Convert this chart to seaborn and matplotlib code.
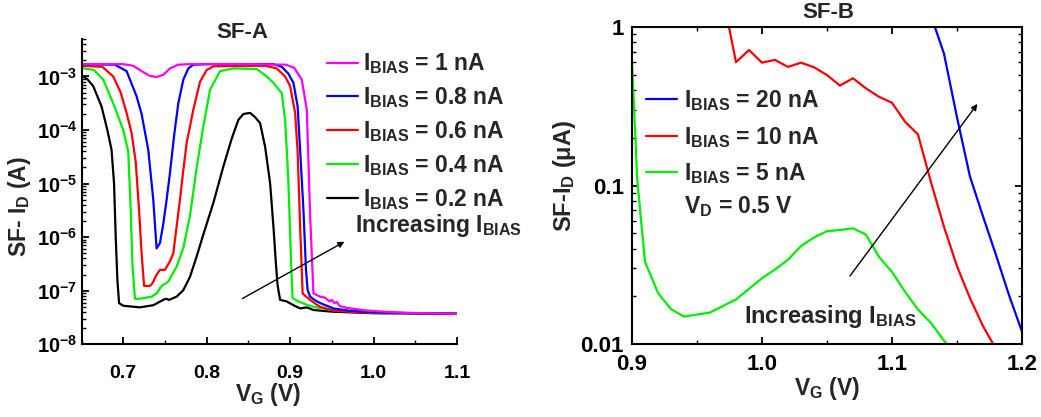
import numpy as np
import pandas as pd
import matplotlib
matplotlib.use("Agg")
import matplotlib.pyplot as plt
import seaborn as sns
from matplotlib.ticker import FixedLocator, FixedFormatter, MultipleLocator, LogLocator, NullFormatter
from matplotlib.lines import Line2D

# ---------------- SF-A: drain current vs gate voltage (log10 of current in A) ----------------
va_1n = [0.65, 0.70, 0.712, 0.722, 0.732, 0.740, 0.748, 0.756, 0.766, 0.78, 0.85, 0.895, 0.905,
         0.914, 0.920, 0.924, 0.928, 0.936, 0.942, 0.947, 0.950, 0.953, 0.956, 0.959, 0.968,
         0.992, 1.032, 1.1]
la_1n = [-2.77, -2.77, -2.80, -2.90, -2.99, -3.01, -2.97, -2.85, -2.78, -2.77, -2.77, -2.78, -2.84,
         -3.06, -3.62, -5.60, -7.05, -7.11, -7.13, -7.20, -7.17, -7.23, -7.21, -7.28, -7.32,
         -7.37, -7.41, -7.43]

va_08n = [0.65, 0.69, 0.704, 0.716, 0.722, 0.730, 0.736, 0.740, 0.744, 0.748, 0.752, 0.756, 0.761,
          0.766, 0.772, 0.778, 0.784, 0.80, 0.88, 0.89, 0.898, 0.904, 0.909, 0.912, 0.916, 0.919,
          0.921, 0.924, 0.930, 0.936, 0.944, 0.952, 0.97, 1.0, 1.05, 1.1]
la_08n = [-2.77, -2.78, -2.90, -3.37, -3.70, -4.37, -5.30, -6.21, -6.11, -5.75, -5.30, -4.80, -4.10,
          -3.50, -3.06, -2.85, -2.78, -2.77, -2.77, -2.82, -2.95, -3.12, -3.56, -4.37, -5.50, -6.60,
          -6.99, -7.11, -7.18, -7.23, -7.28, -7.33, -7.37, -7.40, -7.42, -7.43]

va_06n = [0.65, 0.675, 0.688, 0.697, 0.704, 0.710, 0.715, 0.719, 0.722, 0.725, 0.732, 0.735, 0.740,
          0.744, 0.750, 0.756, 0.760, 0.764, 0.768, 0.772, 0.776, 0.784, 0.792, 0.800, 0.808, 0.87,
          0.884, 0.894, 0.900, 0.906, 0.909, 0.912, 0.915, 0.920, 0.924, 0.930, 0.936, 0.952, 0.98,
          1.05, 1.1]
la_06n = [-2.80, -2.82, -3.00, -3.30, -3.68, -4.05, -4.60, -5.50, -6.30, -6.91, -6.91, -6.86, -6.70,
          -6.61, -6.61, -6.45, -6.30, -5.80, -5.30, -4.75, -4.24, -3.62, -3.10, -2.88, -2.81, -2.80,
          -2.85, -3.00, -3.18, -3.68, -4.40, -5.80, -7.05, -7.12, -7.17, -7.24, -7.30, -7.37, -7.40,
          -7.42, -7.43]

va_04n = [0.65, 0.665, 0.676, 0.688, 0.700, 0.706, 0.709, 0.711, 0.714, 0.720, 0.734, 0.740, 0.746,
          0.754, 0.764, 0.772, 0.780, 0.788, 0.796, 0.804, 0.816, 0.832, 0.86, 0.872, 0.880, 0.890,
          0.894, 0.896, 0.898, 0.901, 0.903, 0.910, 0.920, 0.928, 0.95, 1.0, 1.1]
la_04n = [-2.84, -2.88, -3.06, -3.50, -4.00, -4.40, -5.50, -6.50, -7.15, -7.15, -7.11, -7.05, -6.91,
          -6.83, -6.55, -6.20, -5.60, -4.70, -3.93, -3.25, -2.90, -2.85, -2.86, -3.00, -3.12, -3.31,
          -3.81, -4.37, -5.00, -6.40, -7.14, -7.20, -7.26, -7.30, -7.36, -7.41, -7.43]

va_02n = [0.65, 0.657, 0.664, 0.674, 0.681, 0.686, 0.689, 0.691, 0.693, 0.695, 0.70, 0.72, 0.736,
          0.748, 0.751, 0.755, 0.764, 0.772, 0.780, 0.788, 0.796, 0.808, 0.820, 0.830, 0.838, 0.844,
          0.852, 0.858, 0.864, 0.870, 0.876, 0.880, 0.883, 0.885, 0.888, 0.896, 0.904, 0.912, 0.920,
          0.928, 0.95, 1.0, 1.1]
la_02n = [-2.98, -3.05, -3.18, -3.56, -4.00, -4.37, -5.00, -6.00, -6.80, -7.23, -7.28, -7.31, -7.27,
          -7.17, -7.15, -7.17, -7.11, -6.99, -6.74, -6.36, -5.95, -5.36, -4.68, -4.16, -3.81, -3.70,
          -3.68, -3.76, -3.87, -4.31, -4.99, -5.80, -6.50, -6.90, -7.17, -7.20, -7.27, -7.33, -7.31,
          -7.36, -7.39, -7.42, -7.43]

a_labels = ["1 nA", "0.8 nA", "0.6 nA", "0.4 nA", "0.2 nA"]
a_colors = ["#ff00ff", "#0000ff", "#ff0000", "#00ee00", "#000000"]

# ---------------- SF-B: drain current vs gate voltage (µA) ----------------
vb_20n = [1.13, 1.14, 1.15, 1.16, 1.17, 1.18, 1.19, 1.20]
ib_20n = [1.18, 0.68, 0.27, 0.114, 0.064, 0.0365, 0.0204, 0.012]

vb_10n = [0.97, 0.98, 0.99, 1.00, 1.01, 1.02, 1.03, 1.04, 1.05, 1.06, 1.07, 1.08, 1.09, 1.10,
          1.11, 1.12, 1.13, 1.14, 1.15, 1.16, 1.17, 1.18]
ib_10n = [1.55, 0.60, 0.716, 0.596, 0.62, 0.56, 0.596, 0.557, 0.498, 0.427, 0.475, 0.41, 0.363,
          0.333, 0.253, 0.21, 0.105, 0.055, 0.031, 0.0195, 0.013, 0.0093]

vb_5n = [0.90, 0.904, 0.91, 0.92, 0.93, 0.94, 0.96, 0.98, 1.00, 1.01, 1.02, 1.03, 1.04, 1.05,
         1.06, 1.07, 1.08, 1.09, 1.10, 1.11, 1.12, 1.13, 1.14, 1.15]
ib_5n = [0.60, 0.11, 0.033, 0.021, 0.0166, 0.0149, 0.0158, 0.0191, 0.026, 0.0295, 0.034, 0.0415,
         0.047, 0.0515, 0.0524, 0.0537, 0.049, 0.0355, 0.0285, 0.0214, 0.0165, 0.0136, 0.0105, 0.0085]

b_labels = ["20 nA", "10 nA", "5 nA"]
b_colors = ["#0000ff", "#ff0000", "#00ee00"]

a_xticks = [0.7, 0.8, 0.9, 1.0, 1.1]
a_yticks = [1e-8, 1e-7, 1e-6, 1e-5, 1e-4, 1e-3]
a_yticklabels = [r"$10^{-8}$", r"$10^{-7}$", r"$10^{-6}$", r"$10^{-5}$", r"$10^{-4}$", r"$10^{-3}$"]
b_xticks = [0.9, 1.0, 1.1, 1.2]
b_yticks = [0.01, 0.1, 1]
b_yticklabels = ["0.01", "0.1", "1"]

# ---------------- style ----------------
sns.set_style("ticks")
plt.rcParams["font.family"] = ["Liberation Sans", "DejaVu Sans"]
plt.rcParams["font.weight"] = "bold"
plt.rcParams["axes.labelweight"] = "bold"
plt.rcParams["mathtext.fontset"] = "custom"
plt.rcParams["mathtext.rm"] = "Liberation Sans:bold"
plt.rcParams["mathtext.it"] = "Liberation Sans:bold"
plt.rcParams["mathtext.bf"] = "Liberation Sans:bold"
plt.rcParams["mathtext.default"] = "rm"
plt.rcParams["axes.linewidth"] = 1.5
plt.rcParams["axes.edgecolor"] = "black"
plt.rcParams["xtick.color"] = "black"
plt.rcParams["ytick.color"] = "black"

fig = plt.figure(figsize=(10.41, 4.17), dpi=100)
ax1 = fig.add_axes([0.0783, 0.1743, 0.3607, 0.7321])
ax2 = fig.add_axes([0.6071, 0.1750, 0.3746, 0.7602])

# ---------------- SF-A ----------------
a_series = [(va_1n, la_1n), (va_08n, la_08n), (va_06n, la_06n), (va_04n, la_04n), (va_02n, la_02n)]
frames = []
for lab, (v, lg) in zip(a_labels, a_series):
    frames.append(pd.DataFrame({"VG": v, "ID": 10.0 ** np.array(lg), "bias": lab}))
df_a = pd.concat(frames, ignore_index=True)
order_a = a_labels[::-1]  # black drawn first, magenta last
sns.lineplot(data=df_a, x="VG", y="ID", hue="bias", hue_order=order_a,
             palette=dict(zip(a_labels, a_colors)), sort=False, estimator=None,
             linewidth=1.6, legend=False, ax=ax1)
ax1.set_yscale("log")
ax1.set_xlim(0.65, 1.1)
ax1.set_ylim(1e-8, 5e-3)
ax1.spines["top"].set_visible(False)
ax1.spines["right"].set_visible(False)
ax1.xaxis.set_major_locator(FixedLocator(a_xticks))
ax1.xaxis.set_major_formatter(FixedFormatter(["%.1f" % t for t in a_xticks]))
ax1.xaxis.set_minor_locator(MultipleLocator(0.05))
ax1.yaxis.set_major_locator(FixedLocator(a_yticks))
ax1.yaxis.set_major_formatter(FixedFormatter(a_yticklabels))
ax1.yaxis.set_minor_locator(LogLocator(base=10, subs=np.arange(2, 10)))
ax1.yaxis.set_minor_formatter(NullFormatter())
ax1.tick_params(which="major", direction="in", length=5, width=1.3)
ax1.tick_params(which="minor", direction="in", length=3, width=1.0)
ax1.tick_params(axis="x", which="major", pad=15, labelsize=14)
ax1.tick_params(axis="y", which="major", pad=3, labelsize=14.5)
ax1.set_xlabel(r"$V_G$ (V)", fontsize=16.5, fontweight="bold")
ax1.set_ylabel(r"SF- $I_D$ (A)", fontsize=16.5, fontweight="bold")
ax1.xaxis.label.set_va("center")
ax1.yaxis.label.set_va("center")
ax1.xaxis.set_label_coords(0.497, -0.166)
ax1.yaxis.set_label_coords(-0.166, 0.45)

a_handles = [Line2D([], [], color=c, lw=1.6) for c in a_colors]
leg1 = ax1.legend(a_handles, [r"$I_{BIAS}$ = " + s for s in a_labels], loc="upper left",
                  bbox_to_anchor=(0.654, 0.959), frameon=False, fontsize=16.5,
                  handlelength=1.35, handletextpad=0.22, labelspacing=0.395,
                  borderpad=0, borderaxespad=0)
ax1.text(0.728, 0.367, r"Increasing $I_{BIAS}$", transform=ax1.transAxes,
         fontsize=16.5, fontweight="bold", ha="left", va="baseline", clip_on=False)
ax1.annotate("", xy=(0.968, 10 ** -6.06), xytext=(0.840, 10 ** -7.17),
             arrowprops=dict(arrowstyle="-|>", color="black", lw=1.0, mutation_scale=9))
fig.text(242 / 1041, 1 - 33 / 417, "SF-A", ha="center", va="center", fontsize=16, fontweight="bold")

# ---------------- SF-B ----------------
b_series = [(vb_20n, ib_20n), (vb_10n, ib_10n), (vb_5n, ib_5n)]
frames = []
for lab, (v, i) in zip(b_labels, b_series):
    frames.append(pd.DataFrame({"VG": v, "ID": i, "bias": lab}))
df_b = pd.concat(frames, ignore_index=True)
sns.lineplot(data=df_b, x="VG", y="ID", hue="bias", hue_order=b_labels,
             palette=dict(zip(b_labels, b_colors)), sort=False, estimator=None,
             linewidth=1.6, legend=False, ax=ax2)
ax2.set_yscale("log")
ax2.set_xlim(0.9, 1.2)
ax2.set_ylim(0.01, 1)
ax2.xaxis.set_major_locator(FixedLocator(b_xticks))
ax2.xaxis.set_major_formatter(FixedFormatter(["%.1f" % t for t in b_xticks]))
ax2.xaxis.set_minor_locator(MultipleLocator(0.05))
ax2.yaxis.set_major_locator(FixedLocator(b_yticks))
ax2.yaxis.set_major_formatter(FixedFormatter(b_yticklabels))
ax2.yaxis.set_minor_locator(LogLocator(base=10, subs=np.arange(2, 10)))
ax2.yaxis.set_minor_formatter(NullFormatter())
ax2.tick_params(which="both", direction="in", top=True, right=True)
ax2.tick_params(which="major", length=5, width=1.3, labelsize=16)
ax2.tick_params(which="minor", length=3, width=1.0)
ax2.tick_params(axis="x", which="major", pad=7)
ax2.tick_params(axis="y", which="major", pad=6)
ax2.set_xlabel(r"$V_G$ (V)", fontsize=16.5, fontweight="bold")
ax2.set_ylabel(r"SF-$I_D$ (μA)", fontsize=17, fontweight="bold")
ax2.xaxis.label.set_va("center")
ax2.yaxis.label.set_va("center")
ax2.xaxis.set_label_coords(0.5, -0.139)
ax2.yaxis.set_label_coords(-0.172, 0.53)

b_handles = [Line2D([], [], color=c, lw=1.6) for c in b_colors]
leg2 = ax2.legend(b_handles, [r"$I_{BIAS}$ = " + s for s in b_labels], loc="upper left",
                  bbox_to_anchor=(0.036, 0.806), frameon=False, fontsize=16.5,
                  handlelength=1.35, handletextpad=0.3, labelspacing=0.5,
                  borderpad=0, borderaxespad=0)
ax2.text(0.133, 0.412, r"$V_D$ = 0.5 V", transform=ax2.transAxes,
         fontsize=16.5, fontweight="bold", ha="left", va="baseline")
ax2.text(0.287, 0.065, r"Increasing $I_{BIAS}$", transform=ax2.transAxes,
         fontsize=17, fontweight="bold", ha="left", va="baseline")
ax2.annotate("", xy=(1.167, 0.338), xytext=(1.0664, 0.026),
             arrowprops=dict(arrowstyle="-|>", color="black", lw=1.0, mutation_scale=9))
fig.text(828 / 1041, 1 - 13 / 417, "SF-B", ha="center", va="center", fontsize=16, fontweight="bold")

fig.savefig("out.png", dpi=100)
